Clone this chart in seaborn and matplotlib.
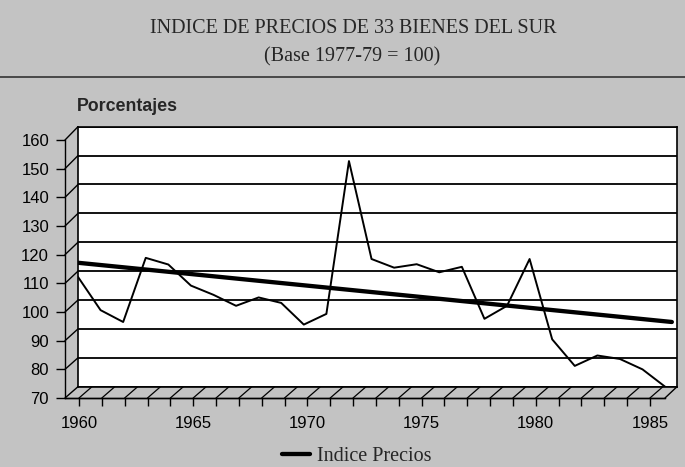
import numpy as np
import pandas as pd
import seaborn as sns
import matplotlib
matplotlib.use('Agg')
from matplotlib import pyplot as plt
from matplotlib.lines import Line2D
from matplotlib.patches import Polygon

# valores (indice, base 1977-79 = 100)
years = list(range(1960, 1987))
indice = [108.0, 96.5, 92.4, 114.6, 112.3, 105.0, 101.8, 98.0, 100.9, 99.0,
          91.5, 95.2, 148.1, 114.2, 111.2, 112.4, 109.6, 111.5, 93.5, 98.0,
          114.2, 86.4, 77.2, 80.8, 79.6, 76.0, 70.0]
trend_years = [1960, 1986.3]
trend_values = [112.9, 92.4]
y_ticks = list(range(70, 161, 10))
x_ticks = list(range(1960, 1986))
x_labels = [1960, 1965, 1970, 1975, 1980, 1985]

sns.set_style('white')
plt.rcParams['font.family'] = ['Liberation Sans', 'DejaVu Sans']

W, H = 685, 467
BG = '#c3c3c3'


def fx(px):
    '''pixel x -> fraccion de figura'''
    return px / W


def fy(py):
    '''pixel y (desde arriba) -> fraccion de figura'''
    return 1 - py / H


def seg(p0, p1, lw=1.0):
    fig.add_artist(Line2D([fx(p0[0]), fx(p1[0])], [fy(p0[1]), fy(p1[1])],
                          transform=fig.transFigure, color='black', lw=lw))


fig = plt.figure(figsize=(W / 100, H / 100), dpi=100, facecolor=BG)

# plano frontal (ejes con etiquetas)
fl, fr, ft, fb = 65, 665, 140, 398
fax = fig.add_axes([fx(fl), fy(fb), (fr - fl) / W, (fb - ft) / H], zorder=1)
fax.set_facecolor('none')
fax.set_xlim(1959.387, 1985.66)
fax.set_ylim(70, 160)
for s in ['top', 'right']:
    fax.spines[s].set_visible(False)
for s in ['left', 'bottom']:
    fax.spines[s].set_color('black')
    fax.spines[s].set_linewidth(1.0)
fax.set_yticks(y_ticks)
fax.set_yticklabels([str(v) for v in y_ticks])
fax.set_xticks(x_ticks)
fax.set_xticklabels([str(v) if v in x_labels else '' for v in x_ticks])
fax.tick_params(axis='y', direction='out', length=6.5, width=1.0, pad=5,
                labelsize=12, colors='black', left=True)
fax.tick_params(axis='x', direction='out', length=5.8, width=1.0, pad=7,
                labelsize=12, colors='black', bottom=True)

# plano de fondo (datos)
bl, br, bt, bb = 78, 677, 126.7, 386.7
ax = fig.add_axes([fx(bl), fy(bb), (br - bl) / W, (bb - bt) / H], zorder=2)
ax.set_facecolor('white')
ax.set_xlim(1960, 1960 + (br - bl) / 22.58)
ax.set_ylim(70, 160)
ax.set_yticks(y_ticks)
ax.grid(axis='y', color='black', lw=1.3)
ax.grid(axis='x', visible=False)
ax.tick_params(left=False, bottom=False, labelleft=False, labelbottom=False)
for s in ax.spines.values():
    s.set_color('black')
    s.set_linewidth(1.2)

sns.lineplot(x=years, y=indice, ax=ax, color='black', lw=1.4)
sns.lineplot(x=trend_years, y=trend_values, ax=ax, color='black', lw=3.1)
ax.set_xlabel('')
ax.set_ylabel('')


# pared izquierda y piso (efecto 3D)
def yb(v):
    return bb - (v - 70) * (bb - bt) / 90


def yf(v):
    return fb - (v - 70) * (fb - ft) / 90


for v in y_ticks:
    seg((bl, yb(v)), (fl, yf(v)), lw=1.0)
seg((br, bb), (fr, fb), lw=1.0)
floor = Polygon([[fx(fl), fy(fb)], [fx(bl), fy(bb)], [fx(br), fy(bb)], [fx(fr), fy(fb)]],
                closed=True, transform=fig.transFigure, facecolor=BG, edgecolor='none')
fig.add_artist(floor)
for yr in x_ticks:
    xd = fax.transData.transform((yr, 70))[0]
    seg((xd, fb), (xd + 13, bb), lw=0.9)
seg((fl, fb), (fr, fb), lw=1.0)

# titulos
fig.text(fx(353), fy(33.3), 'INDICE DE PRECIOS DE 33 BIENES DEL SUR', ha='center', va='baseline',
         family='Liberation Serif', size=14.5)
fig.text(fx(352), fy(61), '(Base 1977-79 = 100)', ha='center', va='baseline',
         family='Liberation Serif', size=14.5)
fig.add_artist(Line2D([0, 1], [fy(77), fy(77)], transform=fig.transFigure, color='#333333', lw=1.2))
fig.text(fx(77), fy(111), 'Porcentajes', ha='left', va='baseline', weight='bold', size=12.8)

fig.legend(handles=[Line2D([], [], color='black', lw=3.1)], labels=['Indice Precios'],
           loc='center', bbox_to_anchor=(fx(357), fy(456)), frameon=False,
           prop={'family': 'Liberation Serif', 'size': 14.5},
           handlelength=1.4, handletextpad=0.35)

fig.savefig('out.png', dpi=100, facecolor=BG)
